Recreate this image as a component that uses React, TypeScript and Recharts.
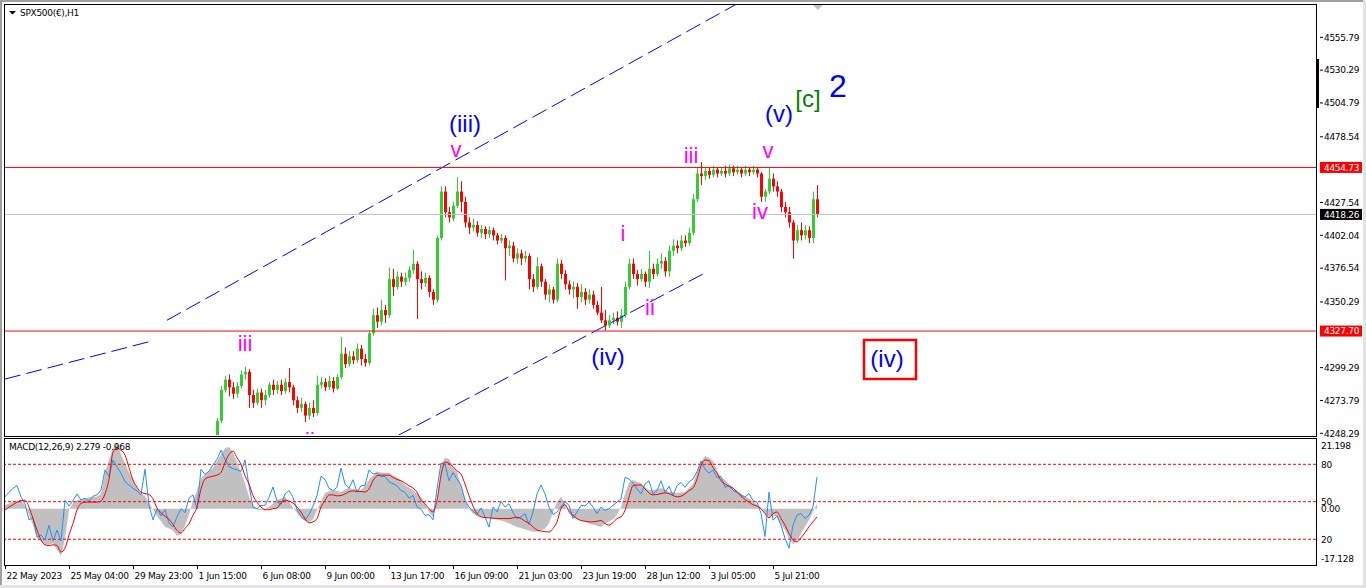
import React from 'react';
import { ComposedChart, Bar, Line, Area, XAxis, YAxis, ReferenceLine } from 'recharts';

// H1 bars, [open, high, low, close], one every 4px slot starting at slot 53
const FIRST_BAR = 53;
const candles: number[][] = [
  [4238, 4260, 4236, 4258], [4258, 4285, 4256, 4282], [4282, 4293, 4280, 4290], [4290, 4294, 4277, 4284],
  [4284, 4288, 4275, 4279], [4279, 4288, 4276, 4285], [4285, 4297, 4283, 4294], [4294, 4300, 4290, 4296],
  [4296, 4298, 4268, 4278], [4278, 4282, 4268, 4272], [4272, 4283, 4270, 4280], [4280, 4283, 4268, 4274],
  [4274, 4282, 4270, 4278], [4278, 4288, 4276, 4286], [4286, 4290, 4278, 4282], [4282, 4289, 4279, 4286],
  [4286, 4290, 4278, 4281], [4281, 4291, 4279, 4288], [4288, 4299, 4280, 4284], [4284, 4286, 4270, 4274],
  [4274, 4277, 4264, 4268], [4268, 4276, 4265, 4271], [4271, 4273, 4257, 4262], [4262, 4272, 4259, 4268],
  [4268, 4274, 4261, 4264], [4264, 4293, 4262, 4286], [4286, 4292, 4283, 4288], [4288, 4291, 4281, 4284],
  [4284, 4293, 4282, 4289], [4289, 4292, 4280, 4283], [4283, 4294, 4282, 4292], [4292, 4323, 4290, 4310],
  [4310, 4315, 4299, 4302], [4302, 4312, 4300, 4308], [4308, 4312, 4302, 4305], [4305, 4318, 4303, 4314],
  [4314, 4317, 4301, 4306], [4306, 4310, 4300, 4303], [4303, 4328, 4301, 4326], [4326, 4345, 4324, 4340],
  [4340, 4346, 4330, 4335], [4335, 4352, 4332, 4344], [4344, 4348, 4334, 4340], [4340, 4377, 4338, 4368],
  [4368, 4376, 4355, 4362], [4362, 4374, 4360, 4370], [4370, 4373, 4362, 4366], [4366, 4373, 4363, 4369],
  [4369, 4378, 4366, 4375], [4375, 4391, 4372, 4380], [4380, 4382, 4337, 4368], [4368, 4374, 4360, 4365],
  [4365, 4373, 4362, 4369], [4369, 4371, 4354, 4358], [4358, 4360, 4348, 4352], [4352, 4402, 4350, 4400],
  [4400, 4440, 4398, 4436], [4436, 4440, 4416, 4420], [4420, 4424, 4412, 4416], [4415, 4428, 4413, 4425],
  [4425, 4447, 4423, 4436], [4436, 4444, 4420, 4428], [4428, 4432, 4408, 4412], [4412, 4416, 4403, 4408],
  [4408, 4415, 4405, 4410], [4410, 4413, 4401, 4404], [4404, 4410, 4400, 4407], [4407, 4409, 4399, 4403],
  [4403, 4409, 4400, 4406], [4406, 4408, 4398, 4402], [4402, 4404, 4395, 4398], [4398, 4403, 4396, 4400],
  [4400, 4402, 4367, 4392], [4392, 4398, 4386, 4394], [4394, 4397, 4381, 4384], [4384, 4392, 4380, 4388],
  [4388, 4391, 4379, 4384], [4384, 4390, 4381, 4386], [4386, 4388, 4360, 4368], [4368, 4372, 4358, 4362],
  [4362, 4385, 4360, 4378], [4378, 4380, 4362, 4366], [4366, 4368, 4352, 4356], [4356, 4364, 4350, 4360],
  [4360, 4362, 4349, 4352], [4352, 4384, 4350, 4380], [4380, 4383, 4368, 4372], [4372, 4375, 4360, 4364],
  [4364, 4367, 4356, 4360], [4360, 4366, 4353, 4362], [4362, 4365, 4345, 4354], [4354, 4364, 4350, 4358],
  [4358, 4361, 4348, 4352], [4352, 4360, 4349, 4356], [4356, 4359, 4345, 4348], [4348, 4351, 4340, 4342],
  [4342, 4362, 4334, 4336], [4336, 4344, 4328, 4332], [4332, 4340, 4330, 4336], [4336, 4342, 4333, 4338],
  [4338, 4343, 4332, 4335], [4335, 4345, 4330, 4340], [4340, 4366, 4338, 4362], [4362, 4384, 4360, 4380],
  [4380, 4384, 4368, 4372], [4372, 4375, 4363, 4368], [4368, 4376, 4366, 4372], [4372, 4374, 4362, 4366],
  [4366, 4390, 4361, 4376], [4376, 4380, 4368, 4372], [4372, 4384, 4370, 4380], [4380, 4388, 4376, 4382],
  [4382, 4385, 4370, 4374], [4374, 4394, 4370, 4390], [4390, 4399, 4386, 4394], [4394, 4398, 4388, 4392],
  [4392, 4402, 4390, 4398], [4398, 4402, 4393, 4396], [4396, 4408, 4394, 4404], [4404, 4434, 4402, 4430],
  [4430, 4455, 4428, 4450], [4450, 4459, 4441, 4448], [4448, 4455, 4445, 4452], [4452, 4455, 4446, 4449],
  [4449, 4456, 4447, 4453], [4453, 4455, 4447, 4450], [4450, 4455, 4448, 4452], [4452, 4456, 4447, 4450],
  [4450, 4457, 4448, 4454], [4454, 4456, 4448, 4451], [4451, 4456, 4449, 4453], [4453, 4455, 4447, 4450],
  [4450, 4456, 4448, 4453], [4453, 4455, 4448, 4451], [4451, 4456, 4449, 4453], [4453, 4455, 4447, 4450],
  [4450, 4451, 4428, 4432], [4432, 4438, 4428, 4436], [4436, 4455, 4434, 4446], [4446, 4450, 4436, 4440],
  [4440, 4444, 4432, 4436], [4436, 4438, 4420, 4424], [4424, 4428, 4416, 4420], [4420, 4424, 4408, 4412],
  [4412, 4414, 4384, 4398], [4398, 4410, 4396, 4406], [4406, 4412, 4398, 4402], [4402, 4410, 4399, 4406],
  [4406, 4409, 4396, 4400], [4400, 4436, 4396, 4430], [4430, 4441, 4416, 4418.26],
];

// MACD panel, one value per slot from slot 0
const macdHist = [
  1.1, 1.6, 2.0, 2.3, 2.6, 1.0, -1.8, -5.0, -8.7, -10.0,
  -11.0, -10.8, -10.6, -12.5, -14.5, -9.0, -0.5, 1.8, 2.6, 2.9,
  3.2, 3.5, 3.6, 3.6, 4.5, 10.9, 14.8, 18.4, 20.0, 16.5,
  13.8, 11.0, 8.7, 6.2, 4.6, 3.8, 1.8, -0.3, -2.2, -3.8,
  -5.6, -6.0, -6.6, -8.3, -7.5, -5.2, -1.8, 2.5, 5.5, 9.2,
  10.5, 11.5, 12.4, 14.5, 16.5, 18.4, 18.8, 17.0, 14.0, 11.0,
  7.8, 3.6, 1.0, -0.2, -0.5, 0.0, 0.5, 1.6, 2.6, 3.2,
  3.6, 2.0, 0.3, -1.3, -2.8, -3.8, -4.2, -3.2, -0.5, 2.2,
  4.8, 5.3, 5.7, 5.4, 5.1, 5.8, 6.3, 6.0, 5.8, 5.7,
  7.0, 8.7, 10.0, 11.3, 11.0, 10.9, 10.9, 10.2, 9.6, 8.5,
  7.2, 6.4, 5.6, 4.6, 3.5, 1.5, -1.0, -2.5, 2.5, 13.5,
  15.4, 15.2, 12.5, 11.2, 7.0, 3.0, 0.0, -1.5, -2.2, -2.5,
  -2.7, -2.8, -3.0, -3.3, -3.6, -4.0, -4.4, -5.0, -5.6, -5.9,
  -6.3, -6.6, -7.0, -7.0, -6.6, -6.0, -4.5, -1.0, 2.0, 3.6,
  1.5, -1.5, -2.7, -3.2, -3.5, -4.0, -4.5, -4.8, -5.2, -5.6,
  -4.6, -3.8, -3.2, -1.8, 0.5, 4.5, 7.9, 8.7, 8.2, 7.8,
  6.5, 5.7, 5.7, 5.9, 6.3, 5.8, 5.1, 5.0, 4.8, 4.9,
  5.1, 6.2, 7.5, 11.0, 14.3, 16.0, 15.5, 14.5, 11.5, 9.5,
  8.7, 7.5, 6.4, 5.5, 4.6, 3.8, 3.1, 2.2, 1.2, 0.3,
  -1.5, -2.6, -2.0, -2.5, -4.8, -6.5, -9.0, -10.8, -9.8, -7.5,
  -5.5, -3.5, -1.0, 1.5,
];
const macdSignal = [
  -0.4, 0.5, 1.2, 2.0, 2.5, 2.6, 0.5, -3.0, -6.5, -9.5,
  -11.0, -11.2, -11.0, -11.2, -13.2, -12.0, -8.0, -4.5, -0.4, 1.6,
  2.0, 2.0, 2.0, 2.0, 2.3, 4.5, 9.0, 17.2, 18.4, 17.8,
  16.3, 12.5, 8.7, 6.5, 5.0, 4.6, 4.3, 3.0, 0.2, -1.2,
  -2.3, -3.2, -4.8, -6.6, -7.4, -6.0, -4.5, -2.0, 0.5, 6.0,
  9.0, 9.6, 9.9, 10.2, 11.0, 14.0, 16.5, 17.5, 15.5, 13.5,
  10.0, 7.5, 4.0, 2.0, 0.5, -0.3, -0.3, 0.0, 0.2, 1.8,
  2.6, 2.3, 1.7, 0.5, -1.0, -3.0, -4.3, -4.0, -3.0, 0.5,
  2.5, 4.2, 4.2, 3.9, 4.0, 4.5, 5.2, 5.4, 5.3, 5.2,
  5.1, 6.0, 8.5, 10.0, 10.2, 10.2, 10.2, 9.5, 8.9, 8.5,
  7.8, 7.0, 6.3, 5.0, 2.6, 1.5, 0.0, -1.0, 2.6, 10.0,
  14.2, 13.8, 12.8, 11.5, 10.5, 7.5, 4.0, 0.8, -1.5, -2.5,
  -2.7, -2.8, -2.9, -3.0, -3.0, -3.0, -3.0, -2.8, -2.6, -3.0,
  -3.8, -4.5, -5.5, -6.5, -6.8, -7.0, -7.1, -6.0, -4.0, 0.0,
  1.2, -0.8, -2.0, -3.0, -3.6, -3.8, -4.0, -4.0, -3.8, -3.6,
  -4.5, -5.0, -4.2, -3.0, -2.5, -0.5, 3.5, 7.0, 7.2, 7.2,
  6.0, 4.8, 4.2, 4.3, 4.6, 4.8, 4.6, 4.0, 3.6, 3.8,
  4.5, 5.5, 6.3, 9.0, 13.0, 14.8, 14.6, 12.5, 10.9, 8.5,
  7.5, 6.8, 6.3, 5.0, 3.8, 2.8, 2.0, 1.2, 0.8, 0.0,
  -1.5, -2.8, -1.5, -1.0, -3.0, -5.0, -7.5, -9.5, -10.1, -8.8,
  -7.3, -5.5, -4.0, -2.5,
];
const macdFast = [
  3.6, 5.0, 6.2, 7.0, 3.6, 1.5, -3.4, -2.8, -8.7, -8.0,
  -9.5, -5.0, -9.8, -6.5, -9.8, 2.6, 0.8, 2.5, 4.5, 2.6,
  3.2, 2.3, 3.8, 4.2, 5.7, 11.8, 9.8, 14.8, 12.7, 10.8,
  8.2, 7.2, 6.2, 5.4, 4.2, 12.0, 1.0, -3.4, 0.0, -2.2,
  -0.3, -4.4, -5.5, -2.5, 0.0, -1.2, 3.2, 4.2, 0.0, 12.0,
  10.4, 11.4, 13.3, 15.0, 17.8, 15.0, 12.8, 12.2, 11.8, 11.3,
  14.8, 7.0, 0.5, 0.0, 1.0, 1.0, 3.5, 6.6, 2.2, 1.3,
  4.5, 5.5, 3.5, -0.3, -2.3, -3.4, -1.8, 0.8, 4.0, 9.9,
  8.9, 6.2, 5.5, 6.5, 12.3, 7.5, 6.2, 8.8, 5.0, 7.0,
  7.1, 11.8, 10.6, 10.8, 9.8, 9.8, 8.2, 7.6, 7.0, 5.5,
  5.0, 3.2, 4.0, 0.5, -0.2, -2.0, -1.8, -3.4, 6.0, 13.9,
  13.5, 8.5, 11.0, 9.0, 7.2, 2.6, 0.5, -0.8, -1.8, 0.2,
  -2.5, -5.6, 0.5, -1.0, 2.2, 0.5, 1.5, -1.2, -3.0, -2.5,
  -1.5, -4.8, -1.0, 4.5, 7.2, 4.5, 0.5, -1.8, -1.0, 0.5,
  2.2, 1.0, -3.0, -1.0, 1.0, 0.8, 2.0, 0.5, -1.5, 0.5,
  -0.5, 0.0, 1.0, 2.0, 3.0, 9.5, 9.0, 7.8, 6.0, 4.5,
  7.5, 8.5, 4.5, 5.5, 8.5, 5.0, 6.8, 4.0, 7.0, 8.0,
  6.5, 8.2, 9.0, 11.3, 14.5, 12.0, 10.8, 11.8, 9.5, 9.8,
  6.5, 7.0, 5.5, 5.0, 4.2, 3.5, 4.6, 2.5, 2.0, -1.4,
  -8.5, 5.0, -3.5, -2.2, -5.0, -9.0, -12.0, -5.0, -2.0, -1.5,
  -3.0, -2.0, 0.5, 9.7,
];

const timeTicks = [0, 16, 32, 48, 64, 80, 96, 112, 128, 144, 160, 176, 192];
const timeLabels = [
  '22 May 2023', '25 May 04:00', '29 May 23:00', '1 Jun 15:00', '6 Jun 08:00', '9 Jun 00:00',
  '13 Jun 17:00', '16 Jun 09:00', '21 Jun 03:00', '23 Jun 19:00', '28 Jun 12:00', '3 Jul 05:00', '5 Jul 21:00',
];
const priceTicks = [4555.79, 4530.29, 4504.79, 4478.54, 4427.54, 4402.04, 4376.54, 4350.29, 4299.29, 4273.79, 4248.29];
const priceDomain = [4246.97, 4580.87];
const highLine = 4454.73;
const lowLine = 4327.7;
const lastPrice = 4418.26;
const macdDomain = [-17.128, 21.198];
const macdTicks = [21.198, 13.5, 2.13, 0, -9.3, -17.128];
const macdTickLabels = ['21.198', '80', '50', '0.00', '20', '-17.128'];
const macdLevels = [13.5, 2.13, -9.3];

// trend channel segments [slot, price]
const channelLines = [
  [[0, 4290.4], [36.75, 4320.0]],
  [[40.5, 4336.1], [188.75, 4591.7]],
  [[98, 4246.2], [174.5, 4372.0]],
];

const priceData = candles.map((k, i) => ({ s: FIRST_BAR + i, o: k[0], h: k[1], l: k[2], c: k[3], range: [k[2], k[1]] }));
const macdData = macdHist.map((v, i) => ({ s: i, hist: v, sig: macdSignal[i], fast: macdFast[i] }));

const axisFont = { fontFamily: 'DejaVu Sans, sans-serif', fontSize: 9, letterSpacing: -0.3 };

const Candle = (props: any) => {
  const { x, y, width, height, payload } = props;
  if (x == null || y == null || !payload) return null;
  const top = Math.min(y, y + height);
  const span = Math.abs(height);
  const k = span / (payload.h - payload.l);
  const cx = Math.round(x + width / 2) + 0.5;
  const yo = top + (payload.h - payload.o) * k;
  const yc = top + (payload.h - payload.c) * k;
  const color = payload.c > payload.o ? '#32CD32' : payload.c < payload.o ? '#FF0000' : '#000';
  return (
    <g>
      <line x1={cx} x2={cx} y1={top} y2={top + span} stroke={color} strokeWidth={1} />
      <rect x={cx - 1.5} y={Math.min(yo, yc)} width={3} height={Math.max(1, Math.abs(yc - yo))} fill={color} />
    </g>
  );
};

const PriceTick = ({ x, y, payload }: any) => (
  <g>
    <line x1={x + 4} x2={x + 7} y1={y} y2={y} stroke="#000" />
    <text x={x + 8} y={y + 3.3} fill="#000" {...axisFont}>{payload.value.toFixed(2)}</text>
  </g>
);

const MacdTick = ({ x, y, payload }: any) => {
  const i = macdTicks.indexOf(payload.value);
  let dy = 3.3;
  if (i === 0) dy += 6.5;
  if (i === macdTicks.length - 1) dy -= 6.5;
  return <text x={x + 5} y={y + dy} fill="#000" {...axisFont}>{macdTickLabels[i]}</text>;
};

const TimeTick = ({ x, y, payload }: any) => {
  const i = timeTicks.indexOf(payload.value);
  const px = Math.round(x) + 0.5;
  return (
    <g>
      <line x1={px} x2={px} y1={y} y2={y + 4} stroke="#000" />
      <text x={px + 1} y={y + 13.5} fill="#000" {...axisFont}>{timeLabels[i]}</text>
    </g>
  );
};

const PriceTag = ({ viewBox, text, bg }: any) => {
  if (!viewBox) return null;
  const x = viewBox.x + viewBox.width + 4;
  const y = viewBox.y;
  return (
    <g>
      <rect x={x} y={y - 5.5} width={42} height={11} fill={bg} />
      <text x={x + 4} y={y + 3.3} fill="#fff" {...axisFont}>{text}</text>
    </g>
  );
};

// wave count labels: [text, centre x, baseline y, size, colour]
const waveLabels: [string, number, number, number, string][] = [
  ['(iii)', 465, 132, 24, '#0000FF'],
  ['v', 456, 157, 22, '#FF00FF'],
  ['iii', 245, 351, 22, '#FF00FF'],
  ['ii', 310, 448, 22, '#FF00FF'],
  ['iii', 691, 163, 22, '#FF00FF'],
  ['v', 768, 158, 22, '#FF00FF'],
  ['iv', 760, 219, 22, '#FF00FF'],
  ['i', 623, 241, 22, '#FF00FF'],
  ['ii', 650, 315, 22, '#FF00FF'],
  ['(iv)', 608, 365, 24, '#0000FF'],
  ['(v)', 779, 122, 24, '#0000FF'],
  ['[c]', 808, 107, 24, '#008000'],
  ['2', 838, 97, 32, '#0000FF'],
  ['(iv)', 887, 367, 24, '#0000FF'],
];

export default function App() {
  return (
    <div style={{ position: 'absolute', left: 0, top: 0, width: 1366, height: 588, background: '#fff', overflow: 'hidden' }}>
      <div style={{ position: 'absolute', left: 0, top: 0 }}>
        <ComposedChart width={1366} height={440} data={priceData} margin={{ top: 5, right: 0, bottom: 5, left: 5 }}>
          <XAxis type="number" dataKey="s" domain={[0, 327.75]} allowDataOverflow hide />
          <YAxis
            orientation="right"
            width={50}
            domain={priceDomain}
            allowDataOverflow
            ticks={priceTicks}
            interval={0}
            tick={<PriceTick />}
            tickSize={0}
            tickMargin={0}
            axisLine={false}
            tickLine={false}
          />
          {channelLines.map((seg, i) => (
            <ReferenceLine
              key={i}
              segment={[{ x: seg[0][0], y: seg[0][1] }, { x: seg[1][0], y: seg[1][1] }]}
              stroke="#0000FF"
              strokeDasharray="16 6"
              ifOverflow="hidden"
            />
          ))}
          <ReferenceLine y={lastPrice} stroke="#C0C0C0" label={<PriceTag text="4418.26" bg="#000" />} />
          <ReferenceLine y={highLine} stroke="#FF0000" label={<PriceTag text="4454.73" bg="#FF0000" />} />
          <ReferenceLine y={lowLine} stroke="#FF0000" label={<PriceTag text="4327.70" bg="#FF0000" />} />
          <Bar dataKey="range" barSize={3} shape={<Candle />} isAnimationActive={false} />
        </ComposedChart>
      </div>

      <div style={{ position: 'absolute', left: 0, top: 438 }}>
        <ComposedChart width={1366} height={150} data={macdData} margin={{ top: 1, right: 0, bottom: 0, left: 5 }}>
          <XAxis
            type="number"
            dataKey="s"
            domain={[0, 327.75]}
            allowDataOverflow
            ticks={timeTicks}
            interval={0}
            height={23}
            tick={<TimeTick />}
            tickSize={0}
            tickMargin={0}
            axisLine={false}
            tickLine={false}
          />
          <YAxis
            orientation="right"
            width={50}
            domain={macdDomain}
            allowDataOverflow
            ticks={macdTicks}
            interval={0}
            tick={<MacdTick />}
            tickSize={0}
            tickMargin={0}
            axisLine={false}
            tickLine={false}
          />
          <Area dataKey="hist" type="linear" baseValue={0} fill="#C0C0C0" fillOpacity={1} stroke="none" isAnimationActive={false} />
          {macdLevels.map((v) => (
            <ReferenceLine key={v} y={v} stroke="#FF0000" strokeDasharray="3 2" />
          ))}
          <Line dataKey="fast" type="linear" stroke="#1E90FF" strokeWidth={1} dot={false} isAnimationActive={false} />
          <Line dataKey="sig" type="monotone" stroke="#FF0000" strokeWidth={1} dot={false} isAnimationActive={false} />
        </ComposedChart>
      </div>

      {/* window edges and panel frames */}
      <div style={{ position: 'absolute', left: 0, top: 0, width: 1366, height: 2, background: '#A0A0A0' }} />
      <div style={{ position: 'absolute', left: 0, top: 0, width: 2, height: 588, background: '#A0A0A0' }} />
      <div style={{ position: 'absolute', left: 1363, top: 0, width: 3, height: 588, background: '#E3E3E3' }} />
      <div style={{ position: 'absolute', left: 0, top: 585, width: 1366, height: 3, background: '#E3E3E3' }} />
      <div style={{ position: 'absolute', left: 4, top: 4, width: 1313, height: 433, border: '1px solid #000', boxSizing: 'border-box' }} />
      <div style={{ position: 'absolute', left: 4, top: 438, width: 1313, height: 128, border: '1px solid #000', boxSizing: 'border-box' }} />
      <div style={{ position: 'absolute', left: 1316, top: 59, width: 3, height: 49, background: '#000' }} />

      <svg width={1316} height={436} style={{ position: 'absolute', left: 0, top: 0, overflow: 'hidden' }}>
        <polygon points="9,11 16,11 12.5,14.5" fill="#000" />
        <text x={20} y={16} fill="#000" {...axisFont}>SPX500(€),H1</text>
        <polygon points="813,5 823,5 818,10" fill="#C0C0C0" />
        <rect x={864} y={340} width={52} height={39} fill="none" stroke="#FF0000" strokeWidth={2.5} />
        {waveLabels.map(([t, x, y, size, color], i) => (
          <text key={i} x={x} y={y} textAnchor="middle" fontFamily="Liberation Sans, Arial, sans-serif" fontSize={size} fill={color}>
            {t}
          </text>
        ))}
      </svg>
      <svg width={300} height={14} style={{ position: 'absolute', left: 0, top: 440 }}>
        <text x={9} y={10} fill="#000" {...axisFont}>MACD(12,26,9) 2.279 -0.968</text>
      </svg>
    </div>
  );
}
